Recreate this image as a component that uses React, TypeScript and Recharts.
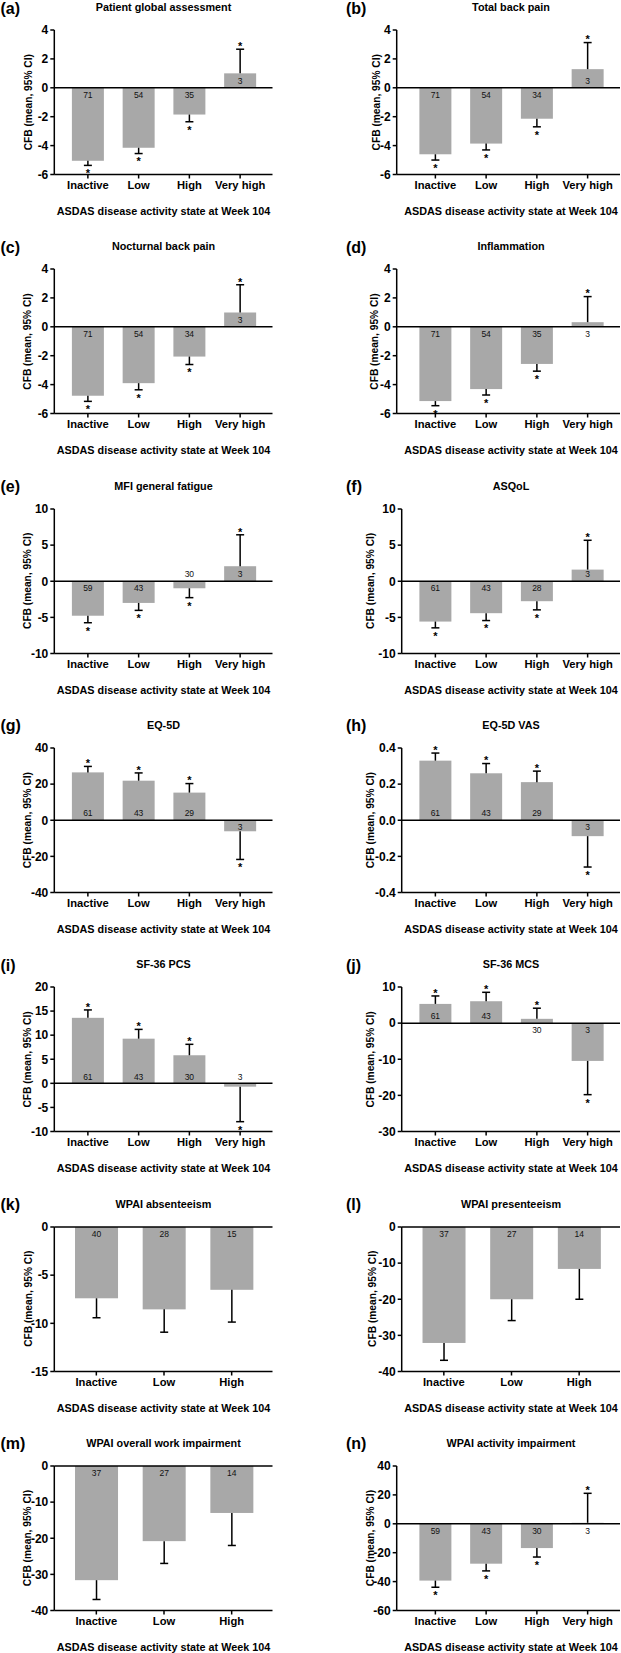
import React from "react";
import { BarChart, Bar, XAxis, YAxis, ReferenceLine } from "recharts";

const FONT = '"Liberation Sans", Arial, Helvetica, sans-serif';
const BAR_FILL = "#a8a8a8";
const INK = "#000";

const categories4 = ["Inactive", "Low", "High", "Very high"];
const categories3 = ["Inactive", "Low", "High"];

// (a) Patient global assessment
const pgaMean = [-5.05, -4.15, -1.85, 1.0];
const pgaCI = [-5.37, -4.55, -2.35, 2.67];
const pgaN = [71, 54, 35, 3];
// (b) Total back pain
const tbpMean = [-4.6, -3.86, -2.14, 1.29];
const tbpCI = [-5.0, -4.3, -2.7, 3.13];
const tbpN = [71, 54, 34, 3];
// (c) Nocturnal back pain
const nbpMean = [-4.77, -3.9, -2.06, 0.99];
const nbpCI = [-5.16, -4.36, -2.61, 2.91];
const nbpN = [71, 54, 34, 3];
// (d) Inflammation
const infMean = [-5.14, -4.31, -2.57, 0.32];
const infCI = [-5.46, -4.72, -3.07, 2.09];
const infN = [71, 54, 35, 3];
// (e) MFI general fatigue
const mfiMean = [-4.77, -3.0, -0.97, 2.08];
const mfiCI = [-5.74, -4.03, -2.27, 6.43];
const mfiN = [59, 43, 30, 3];
// (f) ASQoL
const asqMean = [-5.58, -4.42, -2.76, 1.61];
const asqCI = [-6.45, -5.44, -3.96, 5.67];
const asqN = [61, 43, 28, 3];
// (g) EQ-5D
const eqMean = [26.5, 21.9, 15.3, -6.1];
const eqCI = [29.8, 26.2, 20.3, -21.7];
const eqN = [61, 43, 29, 3];
// (h) EQ-5D VAS
const vasMean = [0.33, 0.26, 0.211, -0.088];
const vasCI = [0.372, 0.314, 0.272, -0.259];
const vasN = [61, 43, 29, 3];
// (i) SF-36 PCS
const pcsMean = [13.6, 9.27, 5.83, -0.69];
const pcsCI = [15.24, 11.2, 8.1, -7.96];
const pcsN = [61, 43, 30, 3];
// (j) SF-36 MCS
const mcsMean = [5.32, 6.06, 1.19, -10.46];
const mcsCI = [7.52, 8.53, 4.13, -19.8];
const mcsN = [61, 43, 30, 3];
// (k) WPAI absenteeism
const absMean = [-7.4, -8.55, -6.52];
const absCI = [-9.42, -10.92, -9.87];
const absN = [40, 28, 15];
// (l) WPAI presenteeism
const preMean = [-32.1, -20.0, -11.6];
const preCI = [-36.9, -25.9, -20.0];
const preN = [37, 27, 14];
// (m) WPAI overall work impairment
const owiMean = [-31.6, -20.8, -13.0];
const owiCI = [-36.95, -26.97, -22.0];
const owiN = [37, 27, 14];
// (n) WPAI activity impairment
const aiMean = [-39.3, -27.6, -16.8, 0.7];
const aiCI = [-43.9, -32.6, -23.0, 21.1];
const aiN = [59, 43, 30, 3];

const ticksPain = [-6, -4, -2, 0, 2, 4];
const ticks10 = [-10, -5, 0, 5, 10];
const ticks40 = [-40, -20, 0, 20, 40];
const ticksVas = [-0.4, -0.2, 0, 0.2, 0.4];
const ticksPcs = [-10, -5, 0, 5, 10, 15, 20];
const ticksMcs = [-30, -20, -10, 0, 10];
const ticksAbs = [-15, -10, -5, 0];
const ticksWork = [-40, -30, -20, -10, 0];
const ticksAct = [-60, -40, -20, 0, 20, 40];

const xAxisTitle = "ASDAS disease activity state at Week 104";
const yAxisTitle = "CFB (mean, 95% CI)";

type PanelDef = {
  letter: string;
  title: string;
  cats: string[];
  mean: number[];
  ci: number[];
  n: number[];
  ticks: number[];
  star: boolean;
  decimals?: number;
};

const panels: PanelDef[] = [
  { letter: "(a)", title: "Patient global assessment", cats: categories4, mean: pgaMean, ci: pgaCI, n: pgaN, ticks: ticksPain, star: true },
  { letter: "(b)", title: "Total back pain", cats: categories4, mean: tbpMean, ci: tbpCI, n: tbpN, ticks: ticksPain, star: true },
  { letter: "(c)", title: "Nocturnal back pain", cats: categories4, mean: nbpMean, ci: nbpCI, n: nbpN, ticks: ticksPain, star: true },
  { letter: "(d)", title: "Inflammation", cats: categories4, mean: infMean, ci: infCI, n: infN, ticks: ticksPain, star: true },
  { letter: "(e)", title: "MFI general fatigue", cats: categories4, mean: mfiMean, ci: mfiCI, n: mfiN, ticks: ticks10, star: true },
  { letter: "(f)", title: "ASQoL", cats: categories4, mean: asqMean, ci: asqCI, n: asqN, ticks: ticks10, star: true },
  { letter: "(g)", title: "EQ-5D", cats: categories4, mean: eqMean, ci: eqCI, n: eqN, ticks: ticks40, star: true },
  { letter: "(h)", title: "EQ-5D VAS", cats: categories4, mean: vasMean, ci: vasCI, n: vasN, ticks: ticksVas, star: true, decimals: 1 },
  { letter: "(i)", title: "SF-36 PCS", cats: categories4, mean: pcsMean, ci: pcsCI, n: pcsN, ticks: ticksPcs, star: true },
  { letter: "(j)", title: "SF-36 MCS", cats: categories4, mean: mcsMean, ci: mcsCI, n: mcsN, ticks: ticksMcs, star: true },
  { letter: "(k)", title: "WPAI absenteeism", cats: categories3, mean: absMean, ci: absCI, n: absN, ticks: ticksAbs, star: false },
  { letter: "(l)", title: "WPAI presenteeism", cats: categories3, mean: preMean, ci: preCI, n: preN, ticks: ticksWork, star: false },
  { letter: "(m)", title: "WPAI overall work impairment", cats: categories3, mean: owiMean, ci: owiCI, n: owiN, ticks: ticksWork, star: false },
  { letter: "(n)", title: "WPAI activity impairment", cats: categories4, mean: aiMean, ci: aiCI, n: aiN, ticks: ticksAct, star: true },
];

// layout (styles only)
const ROW_PITCH = 239.3;
const CHART_H = 204.5;
const PLOT_TOP = 30;
const PLOT_H = 144.5;
const COL_OFF = [0, 347.5];
const CHART_LEFT = [0, 310];
const CHART_W = [300, 311];
const RIGHT_AXIS_X: Record<string, number> = {
  "(b)": 396.7, "(d)": 396.7, "(f)": 401.7, "(h)": 401.7, "(j)": 401.7, "(l)": 401.7, "(n)": 396.7,
};
const RIGHT_YTITLE_X: Record<string, number> = {
  "(b)": 376, "(d)": 375, "(f)": 371, "(h)": 371, "(j)": 371, "(l)": 372, "(n)": 371,
};

function makeShape(star: boolean) {
  return (p: any) => {
    const { x, y, width, height, payload } = p;
    if (!payload) return <g />;
    const v: number = payload.mean;
    const ci: number = payload.ci;
    const yA = y;
    const yB = y + height;
    const valPix = v >= 0 ? Math.min(yA, yB) : Math.max(yA, yB);
    const zeroPix = v >= 0 ? Math.max(yA, yB) : Math.min(yA, yB);
    const ppu = v !== 0 ? Math.abs(zeroPix - valPix) / Math.abs(v) : 0;
    const ciPix = zeroPix - ci * ppu;
    const cx = x + width / 2;
    const barTop = Math.min(yA, yB);
    const barH = Math.abs(height);
    const small = barH < 9;
    const down = v < 0 ? !small : small;
    const nY = zeroPix + (down ? 6.8 : -6.8);
    const starY = ci < 0 ? ciPix + 11.9 : ciPix + 0.9;
    return (
      <g>
        <rect x={x} y={barTop} width={width} height={barH} fill={BAR_FILL} />
        <line x1={cx} x2={cx} y1={valPix} y2={ciPix} stroke={INK} strokeWidth={1.5} />
        <line x1={cx - 4} x2={cx + 4} y1={ciPix} y2={ciPix} stroke={INK} strokeWidth={1.5} />
        <text x={cx} y={nY} textAnchor="middle" dominantBaseline="central" fontSize={8.5} fontFamily={FONT} fill="#111">
          {payload.n}
        </text>
        {star && (
          <text x={cx} y={starY} textAnchor="middle" fontSize={11} fontWeight="bold" fontFamily={FONT} fill={INK}>
            *
          </text>
        )}
      </g>
    );
  };
}

function Panel({ def, idx }: { def: PanelDef; idx: number }) {
  const col = idx % 2;
  const row = Math.floor(idx / 2);
  const top = ROW_PITCH * row;
  const chartLeft = CHART_LEFT[col];
  const chartW = CHART_W[col];
  const colOff = COL_OFF[col];
  const axisX = col === 0 ? 54.3 : RIGHT_AXIS_X[def.letter];
  const plotRight = colOff + 272.5;
  const bandStart = colOff + 62.5;
  const bandEnd = colOff + 265.5;
  const data = def.cats.map((c, i) => ({ cat: c, mean: def.mean[i], ci: def.ci[i], n: def.n[i] }));
  const ymin = def.ticks[0];
  const ymax = def.ticks[def.ticks.length - 1];
  const fmt = (v: number) => (def.decimals ? v.toFixed(def.decimals) : String(v));
  return (
    <div style={{ position: "absolute", left: chartLeft, top, width: chartW, height: CHART_H }}>
      <BarChart
        width={chartW}
        height={CHART_H}
        data={data}
        margin={{ top: PLOT_TOP, right: chartLeft + chartW - plotRight, bottom: 0, left: 0 }}
        barCategoryGap="18.5%"
        style={{ overflow: "visible" }}
      >
        <XAxis
          dataKey="cat"
          type="category"
          interval={0}
          height={CHART_H - PLOT_TOP - PLOT_H}
          padding={{ left: bandStart - axisX, right: plotRight - bandEnd }}
          tickSize={4}
          tickMargin={3}
          axisLine={{ stroke: INK, strokeWidth: 1.5 }}
          tickLine={{ stroke: INK, strokeWidth: 1.5 }}
          tick={{ fontSize: 11.2, fontWeight: "bold", fill: INK, fontFamily: FONT }}
        />
        <YAxis
          type="number"
          domain={[ymin, ymax]}
          ticks={def.ticks}
          interval={0}
          width={axisX - chartLeft}
          tickSize={4}
          tickMargin={2}
          tickFormatter={fmt}
          axisLine={{ stroke: INK, strokeWidth: 1.5 }}
          tickLine={{ stroke: INK, strokeWidth: 1.5 }}
          tick={{ fontSize: 12, fontWeight: "bold", fill: INK, fontFamily: FONT }}
        />
        <Bar dataKey="mean" isAnimationActive={false} shape={makeShape(def.star)} />
        <ReferenceLine y={0} stroke={INK} strokeWidth={1.5} />
      </BarChart>
    </div>
  );
}

function Labels() {
  return (
    <svg
      width={621}
      height={1653}
      style={{ position: "absolute", left: 0, top: 0, pointerEvents: "none" }}
      fontFamily={FONT}
    >
      {panels.map((def, idx) => {
        const col = idx % 2;
        const row = Math.floor(idx / 2);
        const top = ROW_PITCH * row;
        const colOff = COL_OFF[col];
        const centerX = colOff + 163.5;
        const yTitleX = col === 0 ? 28 : RIGHT_YTITLE_X[def.letter];
        const yTitleY = top + PLOT_TOP + PLOT_H / 2;
        return (
          <g key={def.letter}>
            <text x={col === 0 ? 0.5 : 346} y={top + 8} dominantBaseline="central" fontSize={16} fontWeight="bold" fill={INK}>
              {def.letter}
            </text>
            <text x={centerX} y={top + 7} textAnchor="middle" dominantBaseline="central" fontSize={10.8} fontWeight="bold" fill={INK}>
              {def.title}
            </text>
            <text
              x={yTitleX}
              y={yTitleY}
              textAnchor="middle"
              dominantBaseline="central"
              fontSize={10.2}
              fontWeight="bold"
              fill={INK}
              transform={`rotate(-90 ${yTitleX} ${yTitleY})`}
            >
              {yAxisTitle}
            </text>
            <text x={centerX} y={top + 211} textAnchor="middle" dominantBaseline="central" fontSize={10.8} fontWeight="bold" fill={INK}>
              {xAxisTitle}
            </text>
          </g>
        );
      })}
    </svg>
  );
}

export default function App() {
  return (
    <div style={{ position: "absolute", left: 0, top: 0, width: 621, height: 1653, background: "#fff", overflow: "hidden" }}>
      {panels.map((def, idx) => (
        <Panel key={def.letter} def={def} idx={idx} />
      ))}
      <Labels />
    </div>
  );
}
